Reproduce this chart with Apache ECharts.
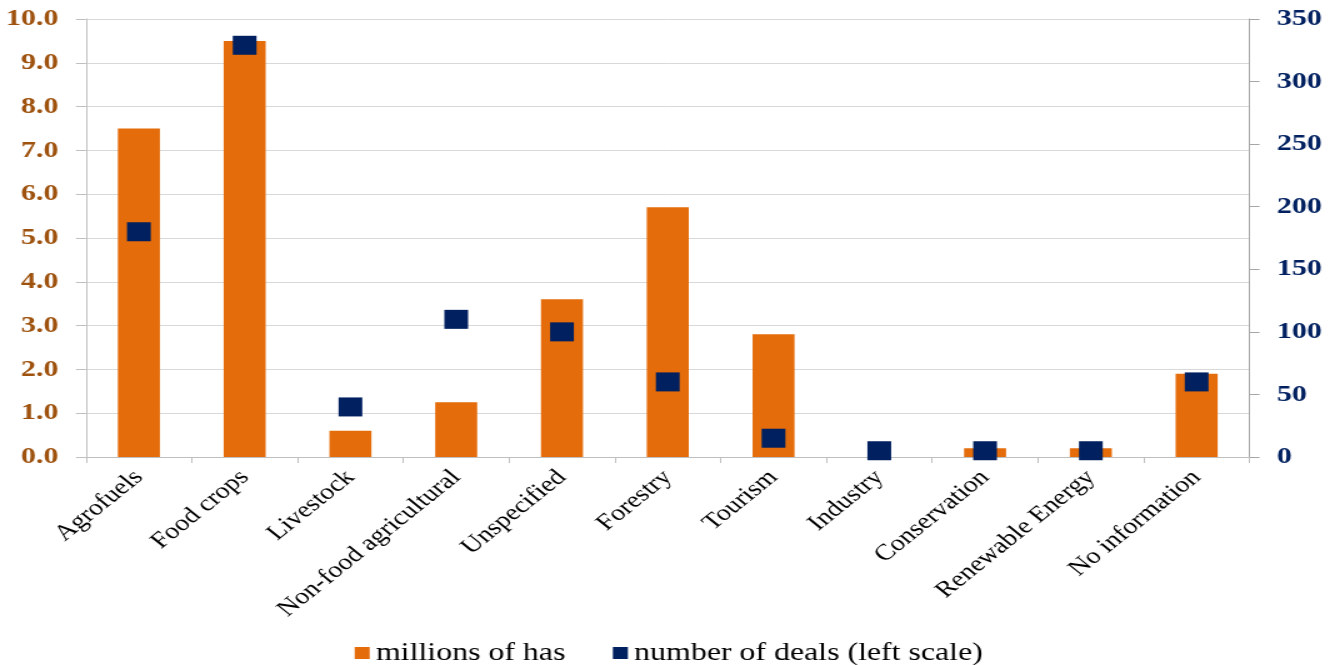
<!DOCTYPE html>
<html>
<head>
<meta charset="utf-8">
<script src="https://cdn.jsdelivr.net/npm/echarts@6/dist/echarts.min.js"></script>
<style>
html,body{margin:0;padding:0;background:#fff;overflow:hidden;}
#wrap{width:1338px;height:665px;overflow:hidden;}
#chart{width:1070.4px;height:665px;transform:scaleX(1.25);transform-origin:0 0;}
</style>
</head>
<body>
<div id="wrap"><div id="chart"></div></div>
<script>
const categories = ["Agrofuels","Food crops","Livestock","Non-food agricultural","Unspecified","Forestry","Tourism","Industry","Conservation","Renewable Energy","No information"];
const millionsOfHas = [7.5, 9.5, 0.6, 1.25, 3.6, 5.7, 2.8, 0, 0.2, 0.2, 1.9];
const numberOfDeals = [180, 329, 40, 110, 100, 60, 15, 5, 5, 5, 60];
const seriesNames = ["millions of has", "number of deals (left scale)"];

const SERIF = "'Liberation Serif', serif";
const chart = echarts.init(document.getElementById('chart'));
chart.setOption({
  animation: false,
  backgroundColor: '#ffffff',
  grid: { left: 68.8, right: 70.4, top: 19, bottom: 208, containLabel: false },
  legend: {
    top: 640,
    left: 'center',
    padding: 0,
    itemWidth: 12,
    itemHeight: 12,
    itemGap: 38,
    icon: 'rect',
    textStyle: { fontFamily: SERIF, fontSize: 25.5, color: '#000' },
    data: seriesNames
  },
  xAxis: {
    type: 'category',
    data: categories,
    boundaryGap: true,
    axisLine: { show: true, lineStyle: { color: '#BFBFBF', width: 1 } },
    axisTick: { show: true, length: 6, lineStyle: { color: '#BFBFBF' } },
    axisLabel: {
      interval: 0,
      rotate: 45,
      margin: 17,
      fontFamily: SERIF,
      fontSize: 22.5,
      color: '#000'
    }
  },
  yAxis: [
    {
      type: 'value',
      min: 0, max: 10, interval: 1,
      position: 'left',
      axisLine: { show: true, lineStyle: { color: '#BFBFBF' } },
      axisTick: { show: true, length: 8, lineStyle: { color: '#BFBFBF' } },
      splitLine: { show: true, lineStyle: { color: '#D9D9D9', width: 1 } },
      axisLabel: {
        margin: 22,
        formatter: v => v.toFixed(1),
        fontFamily: SERIF, fontWeight: 'bold', fontSize: 24, color: '#9E520E'
      }
    },
    {
      type: 'value',
      min: 0, max: 350, interval: 50,
      position: 'right',
      axisLine: { show: true, lineStyle: { color: '#A6A6A6' } },
      axisTick: { show: true, length: 8, lineStyle: { color: '#A6A6A6' } },
      splitLine: { show: false },
      axisLabel: {
        margin: 22,
        fontFamily: SERIF, fontWeight: 'bold', fontSize: 24, color: '#002060'
      }
    }
  ],
  series: [
    {
      name: seriesNames[0],
      type: 'bar',
      yAxisIndex: 0,
      data: millionsOfHas,
      barWidth: 33.6,
      itemStyle: { color: '#E46C0A', opacity: 1 }
    },
    {
      name: seriesNames[1],
      type: 'scatter',
      yAxisIndex: 1,
      data: numberOfDeals,
      symbol: 'rect',
      symbolSize: [19, 19],
      itemStyle: { color: '#002060', opacity: 1 },
      z: 5
    }
  ]
});
</script>
</body>
</html>
